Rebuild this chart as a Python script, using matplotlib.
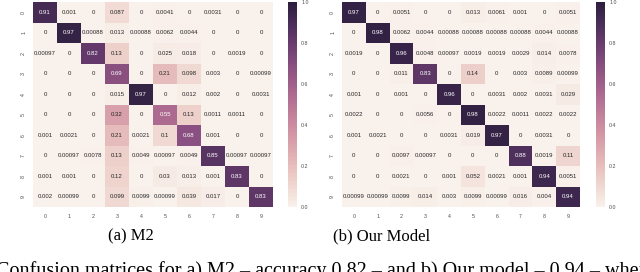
import matplotlib
matplotlib.use("Agg")
import matplotlib.pyplot as plt
import seaborn as sns
import numpy as np

classes = [str(i) for i in range(10)]

# confusion matrix, model M2 (rows = true class)
m2 = [
    [0.91, 0.001, 0, 0.087, 0, 0.0041, 0, 0.0031, 0, 0],
    [0, 0.97, 0.00088, 0.013, 0.00088, 0.0062, 0.0044, 0, 0, 0],
    [0.00097, 0, 0.82, 0.13, 0, 0.025, 0.018, 0, 0.0019, 0],
    [0, 0, 0, 0.69, 0, 0.21, 0.098, 0.003, 0, 0.00099],
    [0, 0, 0, 0.015, 0.97, 0, 0.012, 0.002, 0, 0.0031],
    [0, 0, 0, 0.32, 0, 0.55, 0.13, 0.0011, 0.0011, 0],
    [0.001, 0.0021, 0, 0.21, 0.0021, 0.1, 0.68, 0.001, 0, 0],
    [0, 0.00097, 0.0078, 0.13, 0.0049, 0.00097, 0.0049, 0.85, 0.00097, 0.00097],
    [0.001, 0.001, 0, 0.12, 0, 0.03, 0.013, 0.001, 0.83, 0],
    [0.002, 0.00099, 0, 0.099, 0.0099, 0.00099, 0.039, 0.017, 0, 0.83],
]

# confusion matrix, our model
ours = [
    [0.97, 0, 0.0051, 0, 0, 0.013, 0.0061, 0.001, 0, 0.0051],
    [0, 0.98, 0.0062, 0.0044, 0.00088, 0.00088, 0.00088, 0.00088, 0.0044, 0.00088],
    [0.0019, 0, 0.96, 0.0048, 0.00097, 0.0019, 0.0019, 0.0029, 0.014, 0.0078],
    [0, 0, 0.011, 0.83, 0, 0.14, 0, 0.003, 0.0089, 0.00099],
    [0.001, 0, 0.001, 0, 0.96, 0, 0.0031, 0.002, 0.0031, 0.029],
    [0.0022, 0, 0, 0.0056, 0, 0.98, 0.0022, 0.0011, 0.0022, 0.0022],
    [0.001, 0.0021, 0, 0, 0.0031, 0.019, 0.97, 0, 0.0031, 0],
    [0, 0, 0.0097, 0.00097, 0, 0, 0, 0.88, 0.0019, 0.11],
    [0, 0, 0.0021, 0, 0.001, 0.052, 0.0021, 0.001, 0.94, 0.0051],
    [0.00099, 0.00099, 0.0099, 0.014, 0.003, 0.0099, 0.00099, 0.016, 0.004, 0.94],
]

captions = ["(a) M2", "(b) Our Model"]
body = ("Confusion matrices for a) M2 \u2013 accuracy 0.82 \u2013 and "
        "b) Our model \u2013 0.94 \u2013 when")

plt.rcParams['font.family'] = ['Liberation Sans', 'DejaVu Sans']
cmap = sns.cubehelix_palette(light=.95, as_cmap=True)
grey = '#4d4d4d'

W, H = 640, 272
fig = plt.figure(figsize=(W / 100, H / 100), dpi=100)

def px(x0, y0, x1, y1):
    return [x0 / W, 1 - y1 / H, (x1 - x0) / W, (y1 - y0) / H]

panels = [
    (m2, px(33, 2, 273, 207), px(288, 2, 297, 207)),
    (ours, px(342, 2, 580, 207), px(596, 2, 605, 207)),
]

for data, hm_box, cb_box in panels:
    ax = fig.add_axes(hm_box)
    cax = fig.add_axes(cb_box)
    sns.heatmap(np.array(data), ax=ax, cbar_ax=cax, cmap=cmap, vmin=0, vmax=1,
                annot=True, fmt='.2g', annot_kws={'size': 4.3},
                xticklabels=classes, yticklabels=classes)
    ax.tick_params(length=0, labelsize=3.8, labelcolor=grey, pad=5)
    for t in ax.get_yticklabels():
        t.set_rotation(90)
        t.set_va('center')
    cax.tick_params(length=0, labelsize=3.8, labelcolor=grey, pad=3)
    cax.set_yticks([0, 0.2, 0.4, 0.6, 0.8, 1.0])
    cax.set_yticklabels(['0.0', '0.2', '0.4', '0.6', '0.8', '1.0'])

fig.text(131 / W, 1 - 236 / H, captions[0], ha='center', va='center',
         family='Liberation Serif', fontsize=12, color='black')
fig.text(382 / W, 1 - 236 / H, captions[1], ha='center', va='center',
         family='Liberation Serif', fontsize=12, color='black')
fig.text(-4 / W, 1 - 276 / H, body, ha='left', va='baseline',
         family='Liberation Serif', fontsize=14.5, color='black')

fig.savefig('out.png', dpi=100)
